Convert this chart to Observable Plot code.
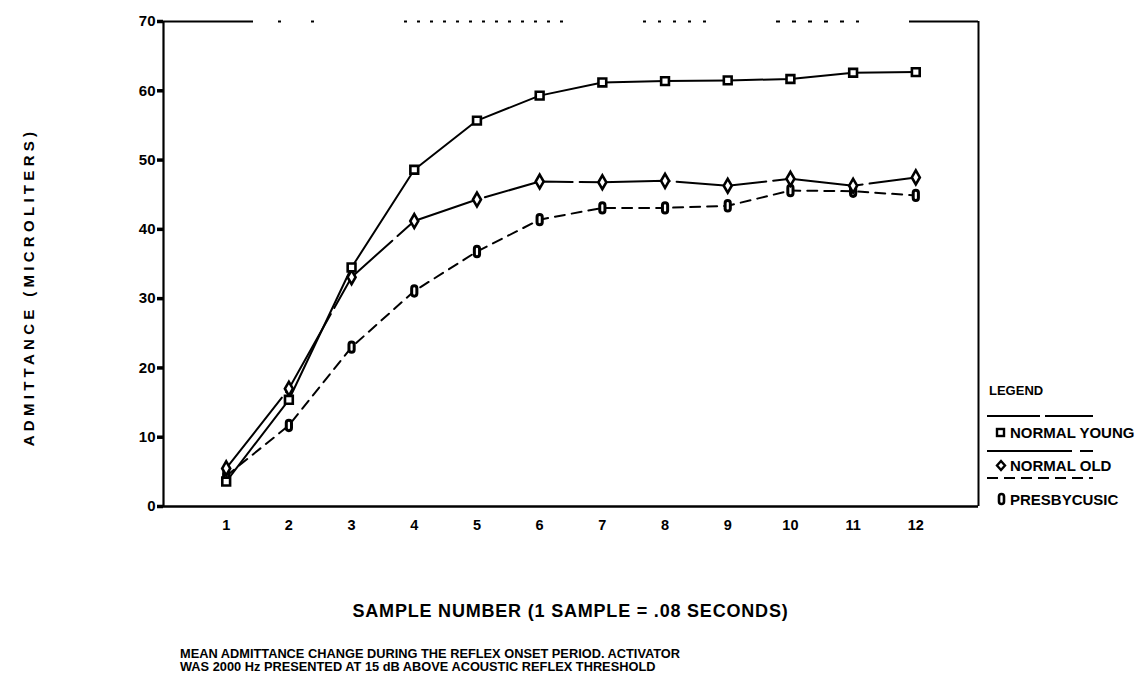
<!DOCTYPE html>
<html>
<head>
<meta charset="utf-8">
<script src="https://cdn.jsdelivr.net/npm/d3@7"></script>
<script src="https://cdn.jsdelivr.net/npm/@observablehq/plot@0.6"></script>
<style>
  html, body { margin: 0; padding: 0; background: #fff; }
  #wrap { position: relative; width: 1138px; height: 684px; overflow: hidden; background: #fff;
          font-family: "Liberation Sans", Arial, Helvetica, sans-serif; font-weight: bold; color: #000; }
  #chart { position: absolute; left: 0; top: 0; }
  .abs { position: absolute; white-space: nowrap; }
  #ylabel { left: 28px; top: 287px; font-size: 15px; letter-spacing: 4.3px;
            transform: translate(-50%, -50%) rotate(-90deg); }
  #xlabel { left: 163px; width: 815px; top: 601px; text-align: center; font-size: 18px; letter-spacing: 0.8px; }
  #caption { left: 180px; top: 647px; font-size: 12.8px; line-height: 13px; }
  #legend { left: 986px; top: 382px; width: 152px; height: 130px; }
</style>
</head>
<body>
<div id="wrap">
  <div id="chart"></div>
  <div class="abs" id="ylabel"></div>
  <div class="abs" id="xlabel"></div>
  <div class="abs" id="caption"></div>
  <div class="abs" id="legend"></div>
</div>
<script>
// ---- data ----
const samples = [1, 2, 3, 4, 5, 6, 7, 8, 9, 10, 11, 12];
const normalYoung = [3.6, 15.4, 34.5, 48.6, 55.7, 59.3, 61.2, 61.4, 61.5, 61.7, 62.6, 62.7];
const normalOld   = [5.5, 17.0, 33.1, 41.2, 44.3, 46.9, 46.8, 47.0, 46.3, 47.3, 46.3, 47.5];
const presbycusic = [4.4, 11.7, 23.0, 31.1, 36.8, 41.4, 43.1, 43.1, 43.4, 45.6, 45.5, 44.9];
const seriesNames = ["NORMAL YOUNG", "NORMAL OLD", "PRESBYCUSIC"];
const yTicks = [0, 10, 20, 30, 40, 50, 60, 70];
const xDomain = [0, 13];
const yDomain = [0, 70];
const yTitle = "ADMITTANCE (MICROLITERS)";
const xTitle = "SAMPLE NUMBER (1 SAMPLE = .08 SECONDS)";
const captionLines = [
  "MEAN ADMITTANCE CHANGE DURING THE REFLEX ONSET PERIOD. ACTIVATOR",
  "WAS 2000 Hz PRESENTED AT 15 dB ABOVE ACOUSTIC REFLEX THRESHOLD"
];
const legendTitle = "LEGEND";

// ---- build rows ----
const toRows = (vals, name) => samples.map((s, i) => ({sample: s, value: vals[i], series: name}));
const youngRows = toRows(normalYoung, seriesNames[0]);
const oldRows = toRows(normalOld, seriesNames[1]);
const presRows = toRows(presbycusic, seriesNames[2]);

// custom marker for presbycusic: narrow upright rounded box
const pillSymbol = {
  draw(ctx) {
    const w = 2.6, h = 5.2;
    ctx.moveTo(-w, -h + w);
    ctx.arc(0, -h + w, w, Math.PI, 0);
    ctx.lineTo(w, h - w);
    ctx.arc(0, h - w, w, 0, Math.PI);
    ctx.closePath();
  }
};

const ink = "#000";
const chart = Plot.plot({
  width: 1138,
  height: 560,
  marginLeft: 163,
  marginRight: 160,
  marginTop: 21,
  marginBottom: 54,
  x: {domain: xDomain},
  y: {domain: yDomain},
  style: {fontFamily: "'Liberation Sans', Arial, sans-serif", fontWeight: "bold", color: ink, background: "transparent", overflow: "visible"},
  marks: [
    // frame
    Plot.ruleX([xDomain[0]], {stroke: ink, strokeWidth: 2.2}),
    Plot.ruleX([xDomain[1]], {stroke: ink, strokeWidth: 2}),
    Plot.ruleY([yDomain[0]], {stroke: ink, strokeWidth: 2.4}),
    Plot.ruleY([yDomain[1]], {stroke: ink, strokeWidth: 2,
      strokeDasharray: "90,25,3,30,3,90,3,10,3,10,3,10,3,10,3,10,3,10,3,10,3,10,3,10,3,10,3,10,3,10,3,80,3,12,3,12,3,12,3,12,3,70,4,12,4,12,4,12,4,12,4,12,3,50,69,200"}),
    // axes
    Plot.axisY({ticks: yTicks, tickSize: 6, tickPadding: 2, strokeWidth: 3.5, fontSize: 15, label: null}),
    Plot.axisX({ticks: samples, tickSize: 0, tickPadding: 13, fontSize: 14.5, label: null}),
    // series lines
    Plot.line(presRows, {x: "sample", y: "value", stroke: ink, strokeWidth: 2, strokeDasharray: "10,7"}),
    Plot.line(oldRows, {x: "sample", y: "value", stroke: ink, strokeWidth: 2, strokeDasharray: "90,7"}),
    Plot.line(youngRows, {x: "sample", y: "value", stroke: ink, strokeWidth: 2}),
    // markers
    Plot.dot(presRows, {x: "sample", y: "value", symbol: pillSymbol, fill: "#fff", stroke: ink, strokeWidth: 3}),
    Plot.dot(oldRows, {x: "sample", y: "value", symbol: "diamond", r: 4.2, fill: "#fff", stroke: ink, strokeWidth: 2.6}),
    Plot.dot(youngRows, {x: "sample", y: "value", symbol: "square", r: 4.4, fill: "#fff", stroke: ink, strokeWidth: 2.6})
  ]
});
document.getElementById("chart").appendChild(chart);

// ---- text outside the plot ----
document.getElementById("ylabel").textContent = yTitle;
document.getElementById("xlabel").textContent = xTitle;
document.getElementById("caption").innerHTML = captionLines.map(l => `<div>${l}</div>`).join("");

// ---- legend ----
const lg = d3.create("svg").attr("width", 152).attr("height", 130)
  .attr("font-family", "'Liberation Sans', Arial, sans-serif").attr("font-weight", "bold");
lg.append("text").attr("x", 3).attr("y", 13).attr("font-size", 13).text(legendTitle);
// line samples
lg.append("line").attr("x1", 1).attr("x2", 107).attr("y1", 34).attr("y2", 34)
  .attr("stroke", ink).attr("stroke-width", 2).attr("stroke-dasharray", "53,5,48");
lg.append("line").attr("x1", 1).attr("x2", 107).attr("y1", 69).attr("y2", 69)
  .attr("stroke", ink).attr("stroke-width", 2).attr("stroke-dasharray", "85,8,13");
lg.append("line").attr("x1", 1).attr("x2", 107).attr("y1", 96).attr("y2", 96)
  .attr("stroke", ink).attr("stroke-width", 2).attr("stroke-dasharray", "11,6");
// markers
lg.append("rect").attr("x", 11).attr("y", 47).attr("width", 7).attr("height", 7)
  .attr("fill", "#fff").attr("stroke", ink).attr("stroke-width", 2.4);
lg.append("path").attr("d", "M15,79 l4,4.5 l-4,4.5 l-4,-4.5 z")
  .attr("fill", "#fff").attr("stroke", ink).attr("stroke-width", 2.4);
lg.append("rect").attr("x", 13).attr("y", 112).attr("width", 5).attr("height", 10).attr("rx", 2.5)
  .attr("fill", "#fff").attr("stroke", ink).attr("stroke-width", 2.6);
// labels
lg.append("text").attr("x", 24).attr("y", 56).attr("font-size", 15).text(seriesNames[0]);
lg.append("text").attr("x", 24).attr("y", 89).attr("font-size", 15).text(seriesNames[1]);
lg.append("text").attr("x", 24).attr("y", 123).attr("font-size", 15).text(seriesNames[2]);
document.getElementById("legend").appendChild(lg.node());
</script>
</body>
</html>
